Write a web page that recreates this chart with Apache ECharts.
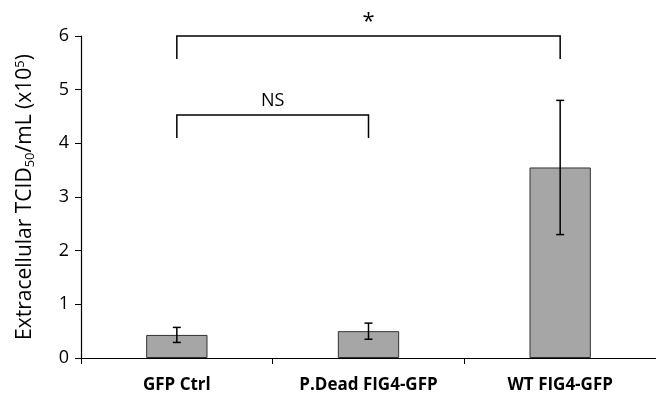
<!DOCTYPE html>
<html><head><meta charset="utf-8">
<script src="https://cdn.jsdelivr.net/npm/echarts@6/dist/echarts.min.js"></script>
<style>html,body{margin:0;padding:0;background:#fff}#c{width:656px;height:397px}</style>
</head><body><div id="c"></div>
<script>
const categories = ['GFP Ctrl', 'P.Dead FIG4-GFP', 'WT FIG4-GFP'];
const means = [0.43, 0.50, 3.55];
const errLow = [0.29, 0.35, 2.30];
const errHigh = [0.57, 0.65, 4.80];
const yTicks = [0, 1, 2, 3, 4, 5, 6];
// brackets: [xStartIndex, xEndIndex, yTop, yLegBottom]
const brackets = [[0, 2, 6.0, 5.57], [0, 1, 4.53, 4.1]];
const annotations = [{x: 1, y: 6.0, text: '*'}, {x: 0.5, y: 4.53, text: 'NS'}];

const FONT = '"Open Sans", "Noto Sans", sans-serif';
const chart = echarts.init(document.getElementById('c'), null, {renderer: 'canvas'});
chart.setOption({
  animation: false,
  grid: {left: 81, right: 0, top: 36, bottom: 39},
  xAxis: [{
    type: 'category', data: categories,
    axisLine: {onZero: false, lineStyle: {color: '#000', width: 1.2}},
    axisTick: {show: true, length: 6, lineStyle: {color: '#000'}, alignWithLabel: false},
    axisLabel: {color: '#000', fontWeight: 'bold', fontSize: 17, margin: 19, fontFamily: FONT}
  }, {
    type: 'value', min: -0.5, max: 2.5, show: false
  }],
  yAxis: {
    type: 'value', min: 0, max: 6, interval: 1,
    splitLine: {show: false},
    axisLine: {show: true, onZero: false, lineStyle: {color: '#000', width: 1.2}},
    axisTick: {show: true, length: 6, lineStyle: {color: '#000'}},
    axisLabel: {color: '#000', fontSize: 18, margin: 12, fontFamily: FONT,
      formatter: v => yTicks.includes(v) ? String(v) : ''},
    name: '{a|Extracellular TCID}{s|50}{a|/mL (x10}{p|5}{a|)}',
    nameLocation: 'middle', nameGap: 44, nameRotate: 90,
    nameTextStyle: {
      rich: {
        a: {fontSize: 21, color: '#000', fontFamily: FONT},
        s: {fontSize: 13, color: '#000', fontFamily: FONT, verticalAlign: 'bottom', padding: [10, 0, 0, 0]},
        p: {fontSize: 13, color: '#000', fontFamily: FONT, verticalAlign: 'top', padding: [0, 0, 10, 0]}
      }
    }
  },
  series: [{
    type: 'bar', data: means, barWidth: '32%', z: 2,
    itemStyle: {color: '#a6a6a6', borderColor: '#333', borderWidth: 1}
  }, {
    type: 'custom', xAxisIndex: 1, z: 5,
    data: categories.map((c, i) => [i, errLow[i], errHigh[i]]),
    renderItem: (params, api) => {
      const lo = api.coord([api.value(0), api.value(1)]);
      const hi = api.coord([api.value(0), api.value(2)]);
      const w = 4;
      const st = {stroke: '#000', lineWidth: 1.5};
      return {type: 'group', children: [
        {type: 'line', shape: {x1: lo[0], y1: lo[1], x2: hi[0], y2: hi[1]}, style: st},
        {type: 'line', shape: {x1: lo[0]-w, y1: lo[1], x2: lo[0]+w, y2: lo[1]}, style: st},
        {type: 'line', shape: {x1: hi[0]-w, y1: hi[1], x2: hi[0]+w, y2: hi[1]}, style: st}
      ]};
    }
  }, {
    type: 'custom', xAxisIndex: 1, z: 5,
    data: brackets,
    renderItem: (params, api) => {
      const a = api.coord([api.value(0), api.value(3)]);
      const b = api.coord([api.value(0), api.value(2)]);
      const c = api.coord([api.value(1), api.value(2)]);
      const d = api.coord([api.value(1), api.value(3)]);
      return {type: 'polyline', shape: {points: [a, b, c, d]},
        style: {stroke: '#000', lineWidth: 1.5, fill: null}};
    }
  }, {
    type: 'custom', xAxisIndex: 1, z: 5,
    data: annotations.map(a => [a.x, a.y]),
    renderItem: (params, api) => {
      const p = api.coord([api.value(0), api.value(1)]);
      const t = annotations[params.dataIndex].text;
      return {type: 'text', x: p[0], y: p[1] - (t === '*' ? 3 : 5),
        style: {text: t, fill: '#000', fontFamily: FONT,
          fontSize: t === '*' ? 22 : 18, align: 'center', verticalAlign: 'bottom'}};
    }
  }]
});
</script></body></html>
